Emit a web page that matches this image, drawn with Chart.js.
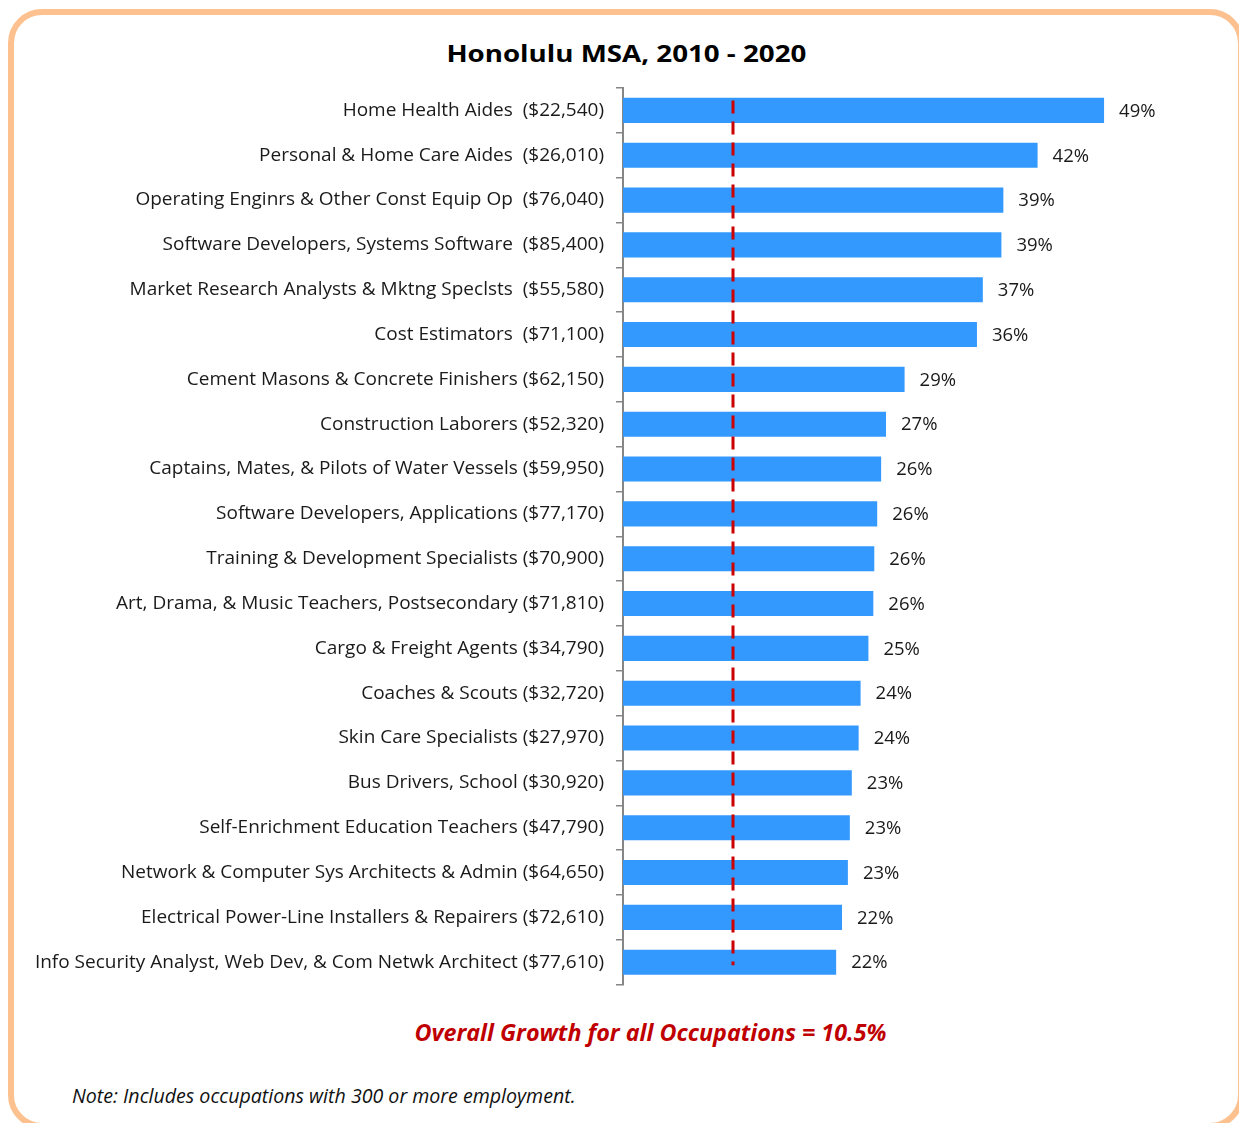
<!DOCTYPE html>
<html>
<head>
<meta charset="utf-8">
<script src="https://cdn.jsdelivr.net/npm/chart.js@4.4.1/dist/chart.umd.min.js"></script>
<style>
  html, body { margin: 0; padding: 0; background: #fff; overflow: hidden; }
  body { width: 1239px; height: 1123px; position: relative; font-family: "Open Sans", sans-serif; }
  .card {
    position: absolute; left: 8px; top: 9px; width: 1236px; height: 1120px;
    box-sizing: border-box; border: 6px solid #fdc18f; border-radius: 34px;
  }
  .chart-box { position: absolute; left: 0; top: 0; width: 1239px; height: 1008px; }
  .title {
    position: absolute; left: 0; width: 1252px; top: 37px; text-align: center;
    font-weight: bold; font-size: 23px; line-height: 32px; color: #000;
  }
  .title span { display: inline-block; transform-origin: center; }
  .overall {
    position: absolute; left: 0; width: 1301px; top: 1016px; text-align: center;
    color: #c00000; font-weight: bold; font-style: italic; font-size: 23.3px; line-height: 32px;
  }
  .note {
    position: absolute; left: 72px; top: 1082px; font-style: italic; font-size: 19.6px; color: #111;
    line-height: 28px;
  }
</style>
</head>
<body>
<div class="card"></div>
<div class="title"><span id="titleText">Honolulu MSA, 2010 - 2020</span></div>
<div class="chart-box"><canvas id="growthChart"></canvas></div>
<div class="overall">Overall Growth for all Occupations = 10.5%</div>
<div class="note">Note: Includes occupations with 300 or more employment.</div>

<script>
// occupations with median wage, top to bottom
const occupations = [
    'Home Health Aides  ($22,540)',
    'Personal & Home Care Aides  ($26,010)',
    'Operating Enginrs & Other Const Equip Op  ($76,040)',
    'Software Developers, Systems Software  ($85,400)',
    'Market Research Analysts & Mktng Speclsts  ($55,580)',
    'Cost Estimators  ($71,100)',
    'Cement Masons & Concrete Finishers ($62,150)',
    'Construction Laborers ($52,320)',
    'Captains, Mates, & Pilots of Water Vessels ($59,950)',
    'Software Developers, Applications ($77,170)',
    'Training & Development Specialists ($70,900)',
    'Art, Drama, & Music Teachers, Postsecondary ($71,810)',
    'Cargo & Freight Agents ($34,790)',
    'Coaches & Scouts ($32,720)',
    'Skin Care Specialists ($27,970)',
    'Bus Drivers, School ($30,920)',
    'Self-Enrichment Education Teachers ($47,790)',
    'Network & Computer Sys Architects & Admin ($64,650)',
    'Electrical Power-Line Installers & Repairers ($72,610)',
    'Info Security Analyst, Web Dev, & Com Netwk Architect ($77,610)'
];

// growth 2010-2020, percent
const growthPct = [49.2, 42.4, 38.9, 38.7, 36.8, 36.2, 28.8, 26.9, 26.4, 26.0,
                   25.7, 25.6, 25.1, 24.3, 24.1, 23.4, 23.2, 23.0, 22.4, 21.8];

// where the red dashed "overall growth" line sits on the bar scale
const overallLineAt = 11.25;

const barLabels = {
    id: 'barLabels',
    afterDatasetsDraw(chart) {
        const ctx = chart.ctx;
        const meta = chart.getDatasetMeta(0);
        ctx.save();
        ctx.font = '18.5px "Open Sans"';
        ctx.fillStyle = '#1a1a1a';
        ctx.textAlign = 'left';
        ctx.textBaseline = 'middle';
        meta.data.forEach((bar, i) => {
            ctx.fillText(Math.round(growthPct[i]) + '%', bar.x + 15, bar.y + 1);
        });
        ctx.restore();
    }
};

const overallLine = {
    id: 'overallLine',
    afterDatasetsDraw(chart) {
        const ctx = chart.ctx;
        const x = chart.scales.x.getPixelForValue(overallLineAt);
        const y0 = chart.scales.y.getPixelForValue(0) - 10;
        const y1 = chart.scales.y.getPixelForValue(occupations.length - 1) + 3;
        ctx.save();
        ctx.strokeStyle = '#cc0000';
        ctx.lineWidth = 3;
        ctx.setLineDash([13, 8]);
        ctx.beginPath();
        ctx.moveTo(x, y0);
        ctx.lineTo(x, y1);
        ctx.stroke();
        ctx.restore();
    }
};

document.addEventListener('DOMContentLoaded', () => {
    // the title in the reference is drawn wide; stretch it to the same span
    const t = document.getElementById('titleText');
    t.style.transform = 'scaleX(' + (360 / t.getBoundingClientRect().width) + ')';

    const ctx = document.getElementById('growthChart').getContext('2d');
    new Chart(ctx, {
        type: 'bar',
        data: {
            labels: occupations,
            datasets: [{
                data: growthPct,
                backgroundColor: '#3399ff',
                borderWidth: 0,
                barPercentage: 0.56,
                categoryPercentage: 1
            }]
        },
        options: {
            indexAxis: 'y',
            responsive: true,
            maintainAspectRatio: false,
            animation: false,
            layout: { padding: { top: 88, left: 13, right: 0, bottom: 9 } },
            plugins: {
                legend: { display: false },
                tooltip: { enabled: false },
                title: { display: false }
            },
            scales: {
                x: { display: false, min: 0, max: 63 },
                y: {
                    grid: {
                        drawOnChartArea: false,
                        drawTicks: true,
                        tickLength: 7,
                        offset: true,
                        color: '#868686',
                        lineWidth: 1.5
                    },
                    border: { display: true, color: '#868686', width: 2 },
                    ticks: {
                        autoSkip: false,
                        padding: 12,
                        color: '#1a1a1a',
                        font: { family: 'Open Sans', size: 19 }
                    },
                    afterFit: (scale) => { scale.width = 623 - 13; }
                }
            }
        },
        plugins: [barLabels, overallLine]
    });
});
</script>
</body>
</html>
